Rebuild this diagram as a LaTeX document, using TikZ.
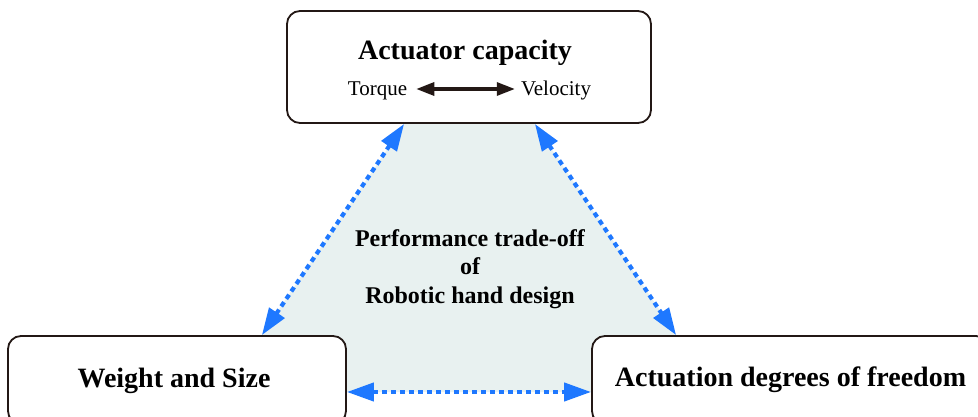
\documentclass[tikz,border=0pt]{standalone}
\usepackage{fontspec}
\setmainfont{Liberation Serif}
\usetikzlibrary{arrows.meta}
\definecolor{inkbrown}{RGB}{35,24,21}
\definecolor{linkblue}{RGB}{30,120,255}
\definecolor{zonefill}{RGB}{232,241,240}
\tikzset{
  panel/.style={draw=inkbrown, line width=1.8pt, rounded corners=13pt, fill=white, inner sep=0pt},
  title/.style={font=\fontsize{28}{30}\selectfont\bfseries, inner sep=0pt},
  label/.style={font=\fontsize{21}{23}\selectfont, inner sep=0pt},
  link/.style={draw=linkblue, line width=4.2pt, dash pattern=on 5pt off 4pt,
    {Triangle[length=27pt,width=18pt]}-{Triangle[length=27pt,width=18pt]}},
  tradeoff/.style={draw=inkbrown, line width=3.3pt,
    {Triangle[length=18pt,width=13pt]}-{Triangle[length=18pt,width=13pt]}}
}
\begin{document}
\begin{tikzpicture}[x=1pt,y=-1pt]
\useasboundingbox (0,0) rectangle (978,417);

% corner points of the shaded zone, at the arrow tips
\coordinate (tl) at (405,123);
\coordinate (tr) at (534,123);
\coordinate (bl) at (261,336);
\coordinate (br) at (677,336);
\fill[zonefill] (tl) -- (tr) -- (br) -- (677,392) -- (261,392) -- (bl) -- cycle;

% the three boxes
\node[panel, minimum width=364pt, minimum height=112pt] (cap) at (469,67) {};
\node[panel, minimum width=338pt, minimum height=88pt] (ws) at (177,380) {};
\node[panel, minimum width=397pt, minimum height=88pt] (dof) at (790.5,380) {};

% texts
\node[title, anchor=base] (captxt) at (465,60) {Actuator capacity};
\node[label, anchor=base] (tq) at (377.5,96) {Torque};
\node[label, anchor=base] (vel) at (556,96) {Velocity};
\node[title, anchor=base] (wstxt) at (174,387) {Weight and Size};
\node[title, anchor=base] (doftxt) at (790.5,386) {Actuation degrees of freedom};
\node[font=\fontsize{24}{28.5}\selectfont\bfseries, align=center, inner sep=0pt] (mid) at (470,269)
  {Performance trade-off\\of\\Robotic hand design};

% torque-velocity relation
\draw[tradeoff] ([xshift=9pt,yshift=7pt]tq.base east) -- ([xshift=-6pt,yshift=7pt]vel.base west);

% trade-off links between the boxes
\draw[link] ([xshift=118pt]cap.south west) -- ([xshift=-85pt]ws.north east);
\draw[link] ([xshift=-117pt]cap.south east) -- ([xshift=85pt]dof.north west);
\draw[link] ([yshift=-12pt]ws.east) -- ([yshift=-12pt]dof.west);
\end{tikzpicture}
\end{document}
